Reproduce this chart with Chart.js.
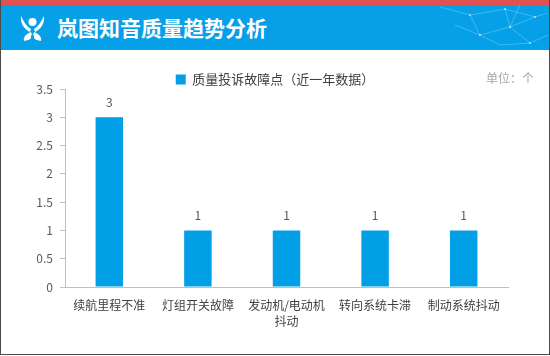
<!DOCTYPE html>
<html><head><meta charset="utf-8">
<script src="https://cdn.jsdelivr.net/npm/chart.js@4/dist/chart.umd.min.js"></script>
<style>
html,body{margin:0;padding:0;background:#fff;}
#wrap{position:relative;width:550px;height:356px;overflow:hidden;font-family:"Noto Sans CJK SC","Noto Sans",sans-serif;}
#red{position:absolute;left:0;top:0;width:550px;height:5px;background:#e0524f;}
#head{position:absolute;left:0;top:5px;width:550px;height:45px;background:#06a0e8;}
#title{position:absolute;left:57px;top:5px;height:45px;line-height:45px;color:#fff;font-size:21px;font-weight:bold;}
#border{position:absolute;left:0;top:0;width:548px;height:354px;border:1px solid #4a4a4a;border-top:none;pointer-events:none;}
#unit{position:absolute;left:486px;top:69px;font-size:12px;color:#a6a6a6;}
canvas{position:absolute;left:0;top:0;}
</style></head>
<body>
<div id="wrap">
<canvas id="c" width="550" height="356"></canvas>
<div id="red"></div>
<div id="head">
<svg width="550" height="45" style="position:absolute;left:0;top:0">
<g fill="#fff">
<circle cx="32.5" cy="17" r="4"/>
<path d="M21 11 C20 18 24 24 30 27 L31 24 C27 22 24 17 21 11 Z"/>
<path d="M44 11 C45 18 41 24 35 27 L34 24 C38 22 41 17 44 11 Z"/>
<path d="M31 27 C26 29 23 32 24 36 C26 33 29 31 32 30 Z"/>
<path d="M34 27 C39 29 42 32 41 36 C39 33 36 31 33 30 Z"/>
<path d="M24 36 C27 35 30 35 31 33 L31 30 C28 32 25 33 24 36 Z"/>
<path d="M41 36 C38 35 35 35 34 33 L34 30 C37 32 40 33 41 36 Z"/>
</g>
<g stroke="#ffffff" stroke-opacity="0.4" stroke-width="0.6" fill="none">
<path d="M440 2 L470 10 L505 4 L535 12 L548 8"/>
<path d="M470 10 L480 30 L510 22 L535 12"/>
<path d="M505 4 L510 22 L530 38 L548 30"/>
<path d="M480 30 L500 40 L530 38"/>
<path d="M455 20 L480 30"/>
<path d="M520 0 L510 22"/>
</g>
<g fill="#ffffff" fill-opacity="0.6">
<circle cx="470" cy="10" r="1.1"/><circle cx="505" cy="4" r="1.1"/><circle cx="535" cy="12" r="1.1"/>
<circle cx="510" cy="22" r="1.1"/><circle cx="480" cy="30" r="1.1"/><circle cx="530" cy="38" r="1.1"/>
</g>
</svg>
</div>
<div id="title">岚图知音质量趋势分析</div>
<div id="unit">单位：个</div>
<div id="border"></div>
</div>
<script>
const categories = ["续航里程不准", "灯组开关故障", ["发动机/电动机", "抖动"], "转向系统卡滞", "制动系统抖动"];
const seriesName = "质量投诉故障点（近一年数据）";
const complaintCounts = [3, 1, 1, 1, 1];
const yTicks = [0, 0.5, 1, 1.5, 2, 2.5, 3, 3.5];

const valueLabels = {
  id: 'valueLabels',
  afterDatasetsDraw(chart) {
    const ctx = chart.ctx;
    const meta = chart.getDatasetMeta(0);
    ctx.save();
    ctx.font = '12px "Noto Sans CJK SC", sans-serif';
    ctx.fillStyle = '#595959';
    ctx.textAlign = 'center';
    ctx.textBaseline = 'middle';
    meta.data.forEach((bar, i) => {
      ctx.fillText(String(chart.data.datasets[0].data[i]), bar.x, bar.y - 15);
    });
    ctx.restore();
  }
};

const legendShift = {
  id: 'legendShift',
  afterLayout(chart) {
    const lg = chart.legend;
    if (!lg) return;
    lg.left += 21; lg.right += 21;
    lg.top += 7; lg.bottom += 7;
  }
};

new Chart(document.getElementById('c'), {
  type: 'bar',
  data: {
    labels: categories,
    datasets: [{
      label: seriesName,
      data: complaintCounts,
      backgroundColor: '#009fe6',
      borderWidth: 0,
      barPercentage: 0.31,
      categoryPercentage: 1.0
    }]
  },
  options: {
    responsive: false,
    animation: false,
    devicePixelRatio: 1,
    layout: { padding: { top: 64, right: 42, bottom: 0, left: 0 } },
    plugins: {
      legend: {
        display: true,
        position: 'top',
        labels: {
          boxWidth: 10, boxHeight: 10, padding: 2,
          color: '#404040',
          font: { size: 13, family: '"Noto Sans CJK SC", sans-serif' }
        }
      },
      tooltip: { enabled: false }
    },
    scales: {
      x: {
        grid: { display: false },
        border: { display: true, color: '#bfbfbf', width: 1 },
        ticks: {
          color: '#404040',
          padding: 2,
          maxRotation: 0,
          autoSkip: false,
          font: { size: 12, family: '"Noto Sans CJK SC", sans-serif', lineHeight: 1.35 }
        },
        afterFit(s) { s.height = 69; }
      },
      y: {
        min: 0, max: 3.5,
        afterBuildTicks(s) { s.ticks = yTicks.map(v => ({ value: v })); },
        grid: { display: true, drawOnChartArea: false, drawTicks: true, tickLength: 5, color: '#bfbfbf' },
        border: { display: true, color: '#bfbfbf', width: 1 },
        ticks: {
          color: '#595959',
          padding: 7,
          callback: v => String(v),
          font: { size: 12, family: '"Noto Sans CJK SC", sans-serif' }
        },
        afterFit(s) { s.width = 65; }
      }
    }
  },
  plugins: [valueLabels, legendShift]
});
</script>
</body></html>
